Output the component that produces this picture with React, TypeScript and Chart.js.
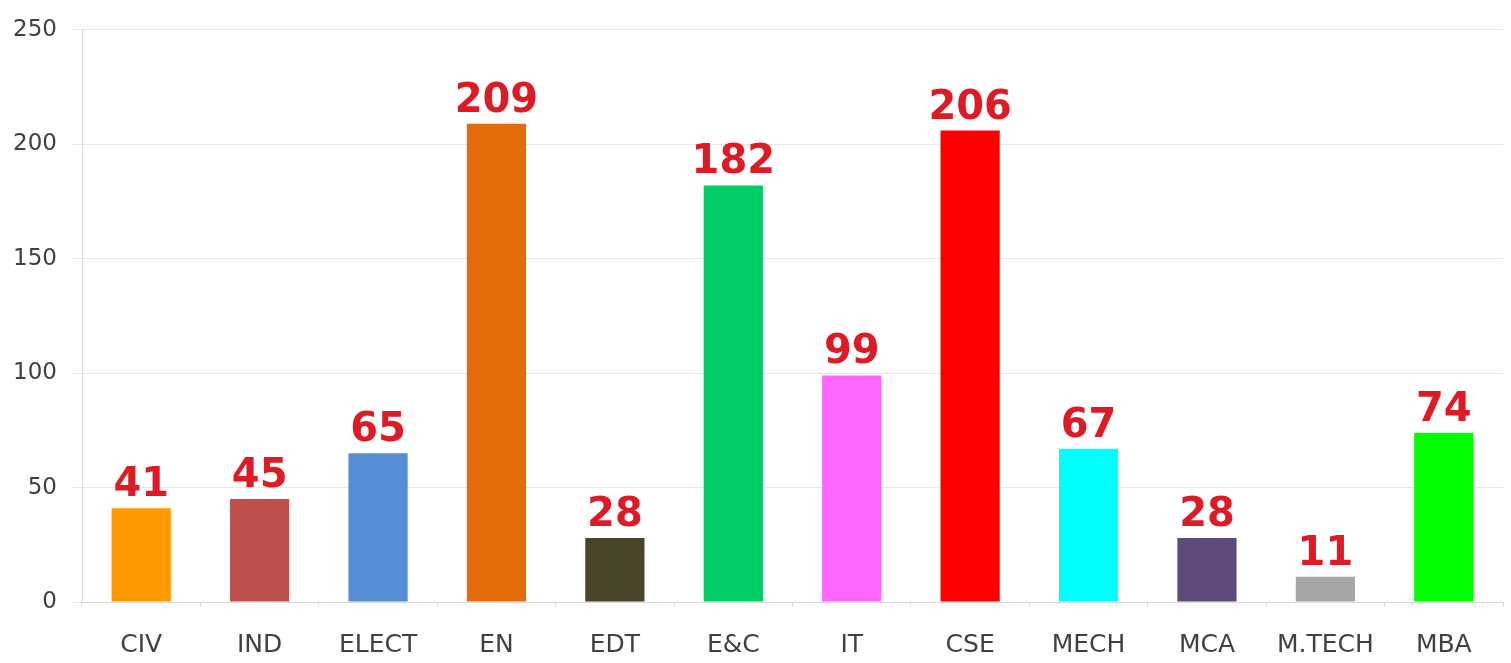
import React, { useEffect, useRef } from "react";
import { Chart, registerables } from "chart.js";

Chart.register(...registerables);

const categories = ["CIV", "IND", "ELECT", "EN", "EDT", "E&C", "IT", "CSE", "MECH", "MCA", "M.TECH", "MBA"];
const values = [41, 45, 65, 209, 28, 182, 99, 206, 67, 28, 11, 74];
const barColors = [
  "#FF9900", "#C0504D", "#558ED5", "#E36C09", "#4A452A", "#00CC66",
  "#FF66FF", "#FF0000", "#00FFFF", "#604A7B", "#A6A6A6", "#00FF00",
];
const yTicks = [0, 50, 100, 150, 200, 250];

const FONT = "'DejaVu Sans', Verdana, sans-serif";

const valueLabels = {
  id: "valueLabels",
  afterDatasetsDraw(chart: any) {
    const ctx = chart.ctx;
    const meta = chart.getDatasetMeta(0);
    ctx.save();
    ctx.font = `bold 40px ${FONT}`;
    ctx.fillStyle = "#DE1A24";
    ctx.textAlign = "center";
    ctx.textBaseline = "alphabetic";
    meta.data.forEach((bar: any, i: number) => {
      ctx.fillText(String(values[i]), bar.x, bar.y - 12);
    });
    ctx.restore();
  },
};

export default function App() {
  const ref = useRef<HTMLCanvasElement>(null);
  useEffect(() => {
    if (!ref.current) return;
    const chart = new Chart(ref.current, {
      type: "bar",
      data: {
        labels: categories,
        datasets: [
          {
            data: values,
            backgroundColor: barColors,
            borderWidth: 0,
            categoryPercentage: 1,
            barPercentage: 0.5,
          },
        ],
      },
      options: {
        animation: false,
        responsive: false,
        maintainAspectRatio: false,
        layout: { padding: { top: 28, right: 8, left: 0, bottom: 0 } },
        plugins: { legend: { display: false }, tooltip: { enabled: false } },
        scales: {
          x: {
            grid: {
              offset: true,
              drawOnChartArea: false,
              drawTicks: true,
              tickLength: 5,
              color: "#d9d9d9",
            },
            border: { color: "#d9d9d9" },
            ticks: {
              font: { family: FONT, size: 25 },
              color: "#404040",
              padding: 23,
              maxRotation: 0,
              autoSkip: false,
            },
            afterFit(scale: any) {
              scale.height = 61;
            },
          },
          y: {
            min: 0,
            max: 250,
            afterBuildTicks(scale: any) {
              scale.ticks = yTicks.map((v) => ({ value: v }));
            },
            grid: { color: "#e6e6e6", tickLength: 9 },
            border: { color: "#d9d9d9" },
            ticks: {
              font: { family: FONT, size: 23 },
              color: "#404040",
              padding: 16,
            },
            afterFit(scale: any) {
              scale.width = 82;
            },
          },
        },
      },
      plugins: [valueLabels],
    });
    return () => chart.destroy();
  }, []);
  return (
    <div style={{ position: "fixed", left: 0, top: 0, width: 1511, height: 663, background: "#fff" }}>
      <canvas ref={ref} width={1511} height={663} style={{ width: 1511, height: 663 }} />
    </div>
  );
}
